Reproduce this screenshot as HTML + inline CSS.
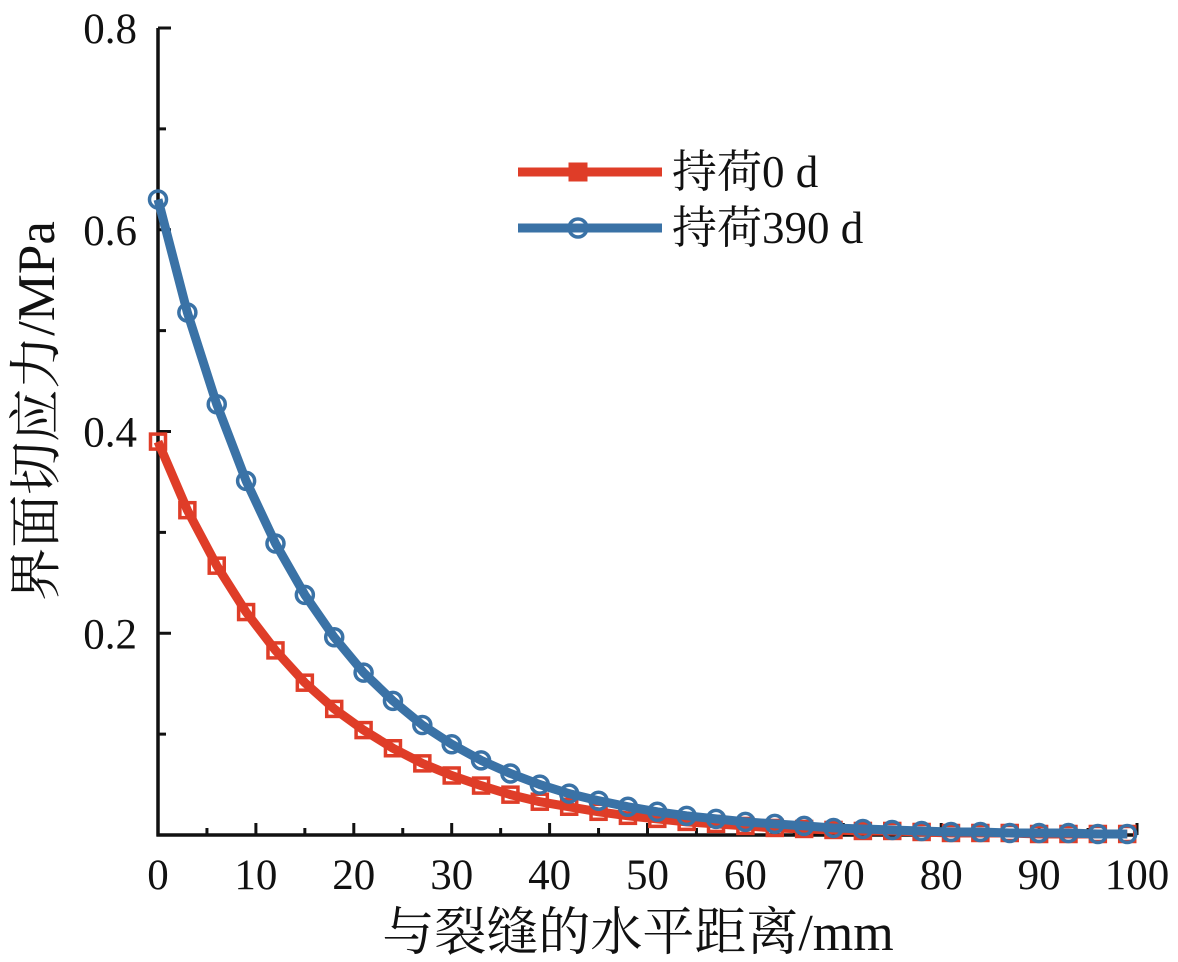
<!DOCTYPE html>
<html><head><meta charset="utf-8"><style>
body{margin:0;background:#fff}
svg{display:block}
text{font-family:"Liberation Serif","Noto Serif CJK SC",serif;fill:#111}
</style></head><body>
<svg id="chart" width="1178" height="962" viewBox="0 0 1178 962" xmlns="http://www.w3.org/2000/svg">
<g id="axes"></g>
<g id="series"></g>
<g id="legend"></g>
</svg>
<script>
const xs=[0,3,6,9,12,15,18,21,24,27,30,33,36,39,42,45,48,51,54,57,60,63,66,69,72,75,78,81,84,87,90,93,96,99];
const red0d=[0.390,0.322,0.267,0.221,0.183,0.151,0.125,0.104,0.086,0.071,0.059,0.049,0.040,0.033,0.028,0.023,0.019,0.016,0.013,0.011,0.009,0.007,0.006,0.005,0.004,0.004,0.003,0.002,0.002,0.002,0.001,0.001,0.001,0.001];
const blue390d=[0.630,0.518,0.427,0.351,0.289,0.238,0.196,0.161,0.133,0.109,0.090,0.074,0.061,0.050,0.041,0.034,0.028,0.023,0.019,0.016,0.013,0.011,0.009,0.007,0.006,0.005,0.004,0.003,0.003,0.002,0.002,0.002,0.001,0.001];
const xTicks=[0,10,20,30,40,50,60,70,80,90,100];
const yTicks=[0.2,0.4,0.6,0.8];
const yTickLabels=["0.2","0.4","0.6","0.8"];
const NS="http://www.w3.org/2000/svg";
const X0=158,X1=1137,Y0=835,Y1=28;
const sx=v=>X0+(X1-X0)*v/100;
const sy=v=>Y0-(Y0-Y1)*v/0.8;
function mk(tag,attrs,parent,txt){const e=document.createElementNS(NS,tag);for(const k in attrs)e.setAttribute(k,attrs[k]);if(txt!==undefined)e.textContent=txt;parent.appendChild(e);return e;}
const axes=document.getElementById('axes');
let e=mk('line',{x1:X0,y1:Y1,x2:X0,y2:Y0+1.5,stroke:'#111','stroke-width':3.5},axes);

e=mk('line',{x1:X0-1.5,y1:Y0,x2:X1,y2:Y0,stroke:'#111','stroke-width':3.5},axes);

xTicks.forEach(t=>{
 const l=mk('line',{x1:sx(t),y1:Y0,x2:sx(t),y2:Y0-12,stroke:'#111','stroke-width':3},axes);
 
 if(t<100){const m=mk('line',{x1:sx(t+5),y1:Y0,x2:sx(t+5),y2:Y0-7,stroke:'#111','stroke-width':3},axes);
 }
 const tx=mk('text',{x:sx(t),y:889,'text-anchor':'middle','font-size':43},axes,String(t));
 
});
yTicks.forEach((t,i)=>{
 const l=mk('line',{x1:X0,y1:sy(t),x2:X0+13,y2:sy(t),stroke:'#111','stroke-width':3},axes);
 
 const m=mk('line',{x1:X0,y1:sy(t-0.1),x2:X0+8,y2:sy(t-0.1),stroke:'#111','stroke-width':3},axes);
 
 const tx=mk('text',{x:137,y:sy(t)+15,'text-anchor':'end','font-size':43},axes,yTickLabels[i]);
 
});
e=mk('text',{x:638,y:950,'text-anchor':'middle','font-size':52},axes,'与裂缝的水平距离/mm');

e=mk('text',{x:0,y:0,'text-anchor':'middle','font-size':53,transform:'translate(54,411) rotate(-90)'},axes,'界面切应力/MPa');

const series=document.getElementById('series');
function draw(vals,color,shape,name){
 const g=mk('g',{},series);
 
 const p=mk('polyline',{points:xs.map((x,i)=>sx(x)+','+sy(vals[i])).join(' '),fill:'none',stroke:color,'stroke-width':9,'stroke-linejoin':'round'},g);
 
 xs.forEach((x,i)=>{
  let m;
  if(shape==='sq') m=mk('rect',{x:sx(x)-7.5,y:sy(vals[i])-7.5,width:15,height:15,fill:'none',stroke:color,'stroke-width':3.5},g);
  else m=mk('circle',{cx:sx(x),cy:sy(vals[i]),r:8.5,fill:'none',stroke:color,'stroke-width':3.5},g);
  
 });
}
draw(red0d,'#df3d28','sq','series-0d');
draw(blue390d,'#3a72a6','ci','series-390d');
const lg=document.getElementById('legend');
[['#df3d28','sq','持荷0 d',172],['#3a72a6','ci','持荷390 d',228]].forEach(([c,s,t,y])=>{
 const g=mk('g',{},lg);
 
 mk('line',{x1:518,y1:y,x2:662,y2:y,stroke:c,'stroke-width':9},g);
 if(s==='sq') mk('rect',{x:570,y:y-8,width:16,height:16,fill:c,stroke:c,'stroke-width':3},g);
 else mk('circle',{cx:578,cy:y,r:9,fill:'none',stroke:c,'stroke-width':3.5},g);
 mk('text',{x:672,y:y+15,'font-size':45},g,t);
});
</script>
</body></html>
